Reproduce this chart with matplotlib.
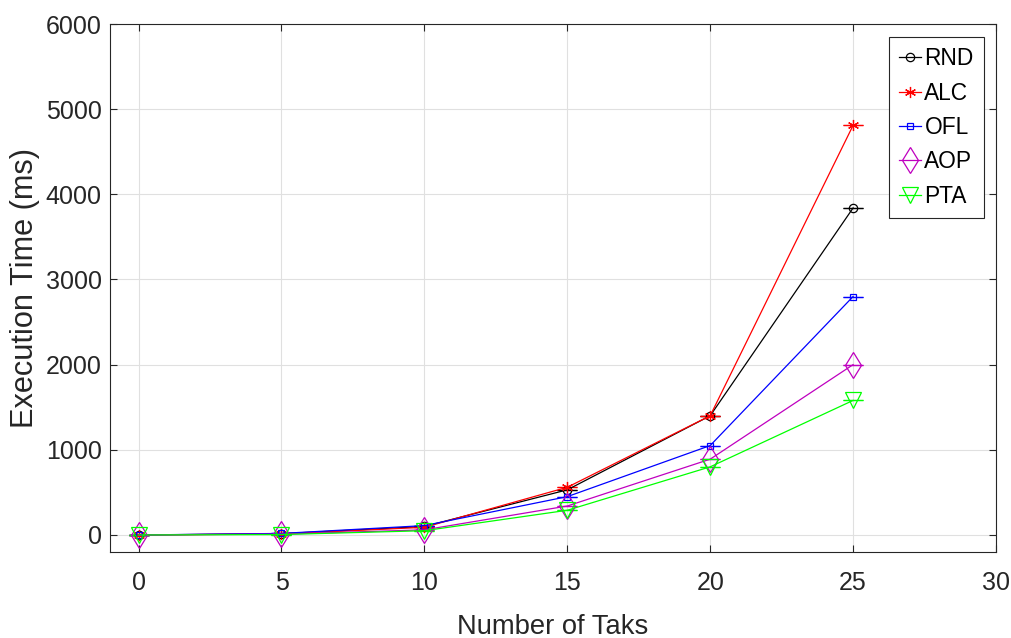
import matplotlib
matplotlib.use("Agg")
import matplotlib.pyplot as plt
from matplotlib import font_manager

names = {f.name for f in font_manager.fontManager.ttflist}
narrow = 'Liberation Sans Narrow' in names
plt.rcParams['font.family'] = (['Liberation Sans Narrow'] if narrow else []) + ['Liberation Sans', 'DejaVu Sans']
k = 1.0 if narrow else 0.82

tasks = [0, 5, 10, 15, 20, 25]
rnd = [0, 15, 100, 530, 1400, 3840]
alc = [0, 12, 90, 560, 1400, 4810]
ofl = [0, 18, 110, 450, 1050, 2800]
aop = [0, 10, 60, 340, 890, 2000]
pta = [0, 5, 50, 290, 800, 1580]

series = [
    ("RND", rnd, "k", "o", 6),
    ("ALC", alc, "r", (6, 2, 0), 8),
    ("OFL", ofl, "b", "s", 5),
    ("AOP", aop, "m", "d", 13),
    ("PTA", pta, (0, 1, 0), "v", 11),
]

txt = '#262626'
fig = plt.figure(figsize=(10.11, 6.38), dpi=100)
ax = fig.add_axes([110/1011, 1-552/638, 886/1011, 528/638])

for name, vals, col, mk, ms in series:
    ax.errorbar(tasks, vals, yerr=[0]*len(vals), color=col, marker=mk,
                markersize=ms, markerfacecolor='none', markeredgecolor=col,
                markeredgewidth=0.9, linewidth=0.9, capsize=7, elinewidth=0.9,
                label=name)

ax.set_xlim(-1, 30)
ax.set_ylim(-200, 6000)
ax.set_xticks([0, 5, 10, 15, 20, 25, 30])
ax.set_yticks([0, 1000, 2000, 3000, 4000, 5000, 6000])
ax.grid(True, color='#e0e0e0', linewidth=0.8)
ax.tick_params(direction='in', labelsize=22*k, colors=txt, length=5,
               top=True, right=True)
ax.tick_params(axis='x', pad=14)
ax.tick_params(axis='y', pad=6)
for s in ax.spines.values():
    s.set_color(txt)
    s.set_linewidth(0.8)
ax.set_xlabel("Number of Taks", fontsize=24*k, color=txt, labelpad=13)
ax.set_ylabel("Execution Time (ms)", fontsize=27*k, color=txt, labelpad=4)

handles, labels = ax.get_legend_handles_labels()
handles = [h[0] for h in handles]
leg = ax.legend(handles, labels, loc='upper right', fontsize=20*k, fancybox=False,
                edgecolor=txt, framealpha=1, handlelength=0.95,
                handletextpad=0.15, borderpad=0.45, labelspacing=0.5,
                borderaxespad=0, bbox_to_anchor=(984/1011, 1-37/638),
                bbox_transform=fig.transFigure)
leg.get_frame().set_linewidth(0.8)

fig.savefig("out.png", dpi=100)
